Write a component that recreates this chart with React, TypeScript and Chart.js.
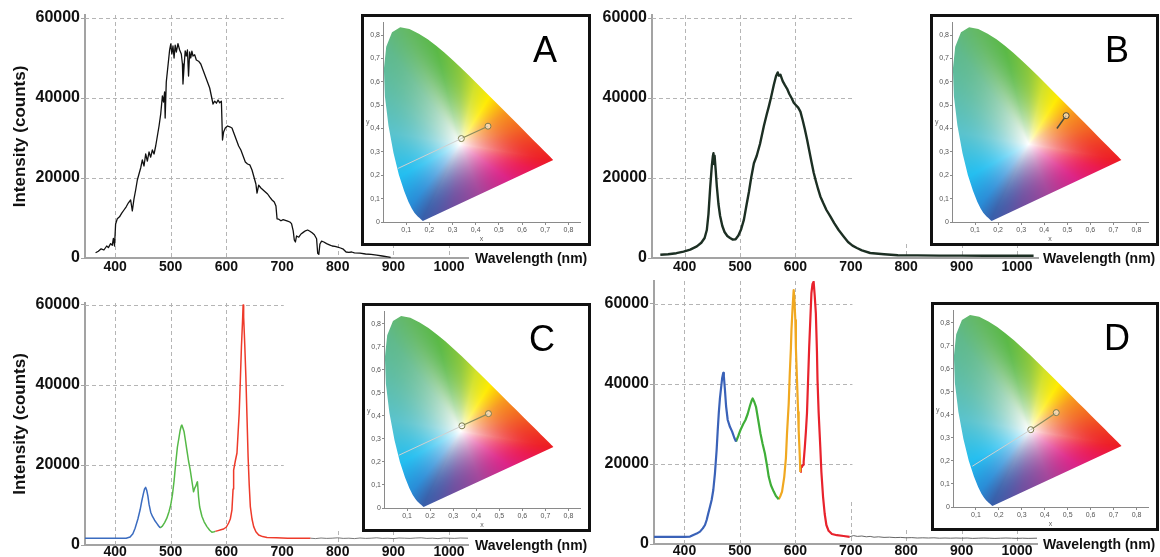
import React, { useEffect, useRef } from "react";
import { Chart, registerables } from "chart.js";
Chart.register(...registerables);

const FONT = "'Liberation Sans', Arial, Helvetica, sans-serif";

// ---------- axis ticks ----------
const WL_TICKS = [400, 500, 600, 700, 800, 900, 1000];
const COUNT_TICKS = [0, 20000, 40000, 60000];
const CIE_X_TICKS = [0.1, 0.2, 0.3, 0.4, 0.5, 0.6, 0.7, 0.8];
const CIE_Y_TICKS = [0, 0.1, 0.2, 0.3, 0.4, 0.5, 0.6, 0.7, 0.8];

// ---------- spectrum A (broad, noisy) ----------
const A_WL = [365,370,375,380,385,388,392,395,397,399,401,404,408,412,416,420,424,428,431,434,437,440,443,446,449,452,455,458,461,464,467,470,473,476,479,482,485,487,489,490,492,495,498,500,502,504,506,508,510,513,516,519,521,522,524,526,528,530,532,534,536,538,540,543,546,550,554,558,562,566,570,573,576,579,582,585,588,591,593,595,598,602,606,610,614,618,622,626,630,634,638,642,646,650,653,655,658,662,666,670,674,678,682,686,689,691,694,698,702,706,710,714,717,720,722,724,726,730,734,738,742,746,750,754,758,762,764,766,768,771,775,780,785,790,795,800,805,810,815,820,825,830,840,850,860,870,880,890,895];
const A_COUNTS = [1300,1700,2300,2000,3000,2600,3600,3200,4900,3000,8500,9800,10300,11200,12000,12800,13800,14500,11800,14800,17000,19500,21000,22500,24500,23000,26000,24200,26500,25200,27000,26000,28000,30500,33000,36000,40500,39000,41500,35000,44000,48000,52000,53500,51000,53000,50000,53200,51500,53600,52000,51000,48500,43500,48000,51800,50500,52000,45500,51500,50000,51700,50500,50800,49500,49200,48500,47000,45500,44000,42500,40500,38500,39200,38700,39500,38800,39200,29500,31500,32500,33000,32800,32500,31000,29500,28000,27000,25500,24000,23500,23300,22000,20000,18500,16200,18200,17500,17000,16500,16000,15200,14500,14000,13000,9800,9700,9300,9600,9400,9200,9000,8600,6800,4500,4000,5500,5200,6000,6400,6800,7000,6700,6300,5800,4800,1200,900,3500,4200,4000,3600,3300,3000,2900,2700,2500,2200,1500,1400,1500,1300,1200,1000,900,700,500,300,150];

// ---------- spectrum B (blue LED + phosphor) ----------
const B_WL = [356,370,385,398,410,422,430,436,440,443,446,449,451,452,453,454,456,458,461,464,468,472,477,482,487,492,497,502,507,512,516,520,525,530,536,543,548,552,556,561,565,568,570,573,577,581,585,589,593,597,601,605,609,613,617,621,625,629,633,637,641,645,650,656,663,670,678,687,695,703,711,720,735,760,785,820,860,900,940,980,1030];
const B_COUNTS = [800,950,1200,1600,2100,2900,3800,5000,7000,11000,17500,23000,25500,26200,23500,25600,22000,18000,13500,10500,8000,6500,5500,5000,4600,4700,5600,7200,9600,13500,16500,20000,23700,25500,28500,33000,35800,37900,40200,43300,45500,46400,45600,45800,44200,43200,42300,41000,40000,38800,38200,37600,36600,34500,32200,29600,26800,24000,21300,19200,17200,15400,13800,12000,10400,8700,7000,5400,4000,3100,2500,1900,1250,950,700,650,600,600,550,550,550];

// ---------- spectrum C (RGB, three bands) ----------
const C_BLUE_WL = [346,360,380,400,420,427,432,436,441,445,448,451,453,455,457,459,461,464,467,471,475,478,481];
const C_BLUE_COUNTS = [1700,1700,1700,1700,1700,2000,2800,4200,6500,8800,11000,12900,14000,14400,13600,12200,10200,8200,7200,6200,5400,4800,4300];
const C_GREEN_WL = [481,485,489,493,497,500,503,506,509,512,515,517,519,520,522,524,526,529,532,535,538,541,543,545,547,548,550,552,556,560,565,570,574,578,580];
const C_GREEN_COUNTS = [4300,4700,5600,6700,8400,10000,12500,16000,20500,24500,27000,28700,29800,30000,29200,28300,26500,23700,21000,18800,16000,13300,14200,14700,15600,15800,12000,9500,7200,5800,4600,3700,3200,3300,3400];
const C_RED_WL = [580,585,590,595,600,604,607,610,612,613,616,619,621,623,625,627,629,630,631,633,635,637,639,641,643,646,649,653,658,665,673,690,710,730,751];
const C_RED_COUNTS = [3400,3600,3800,4000,4500,5500,6500,8800,14000,18700,21000,23000,28000,33000,41000,49500,56000,60000,57000,50000,42000,32000,22000,15000,9600,6500,4600,3300,2500,2100,1900,1800,1700,1700,1700];
const C_TAIL_WL = [751,760,770,780,790,800,810,820,830,840,850,860,870,880,890,900,910,920,930,940,950,960,970,980,990,1000,1010,1020,1034];
const C_TAIL_COUNTS = [1700,1600,1750,1650,1700,1800,1650,1700,1600,1750,1650,1700,1800,1650,1700,1600,1750,1700,1650,1750,1800,1650,1700,1600,1750,1700,1650,1750,1700];

// ---------- spectrum D (four bands) ----------
const D_BLUE_WL = [345,360,380,400,410,416,422,428,433,437,440,443,446,449,452,455,458,460,462,464,466,468,470,471,473,475,478,482,486,490,493];
const D_BLUE_COUNTS = [1800,1800,1800,1800,1850,2250,2600,3100,3900,4750,6000,7700,9300,11000,13500,17700,23500,28500,33000,36500,39000,41500,42800,42000,38500,34500,31000,29300,28100,26500,25600];
const D_GREEN_WL = [493,497,501,506,510,514,518,521,523,526,529,533,537,541,545,549,552,556,561,565,570];
const D_GREEN_COUNTS = [25600,27000,28500,30000,31000,32500,34500,35800,36400,35500,34300,31000,27700,25000,22700,19500,16800,14700,13100,12000,11200];
const D_AMBER_WL = [570,573,576,580,583,585,588,590,592,593,595,597,598,600,601,603,605,606,608,609];
const D_AMBER_COUNTS = [11200,12000,13100,16800,21500,27700,35000,42700,49000,53500,59000,63500,62000,56000,49000,41000,33000,28500,22000,18000];
const D_RED_WL = [609,610,612,614,615,617,619,621,623,625,627,629,631,633,635,637,639,640,642,645,647,650,653,656,660,666,675,687,698];
const D_RED_COUNTS = [18000,19500,19300,19800,20600,24000,28000,32700,41000,49300,56000,62700,65000,65600,62000,57700,48000,41000,33000,24300,18000,11800,7500,4750,3300,2500,2200,2000,1800];
const D_TAIL_WL = [698,705,712,720,728,735,742,750,760,770,780,790,800,810,820,830,840,850,860,870,880,890,900,910,920,930,940,950,960,970,980,990,1000,1010,1020,1036];
const D_TAIL_COUNTS = [1800,2100,1900,2000,1800,1900,1700,1800,1650,1700,1600,1650,1550,1600,1500,1550,1500,1550,1450,1500,1450,1500,1450,1500,1400,1450,1500,1450,1400,1450,1500,1450,1400,1450,1400,1450];

// ---------- CIE 1931 spectral locus ----------
const LOCUS_X = [0.1741,0.1740,0.1738,0.1736,0.1733,0.1730,0.1726,0.1721,0.1714,0.1703,0.1689,0.1669,0.1644,0.1611,0.1566,0.1510,0.1440,0.1355,0.1241,0.1096,0.0913,0.0687,0.0454,0.0235,0.0082,0.0039,0.0139,0.0389,0.0743,0.1142,0.1547,0.1929,0.2296,0.2658,0.3016,0.3373,0.3731,0.4087,0.4441,0.4788,0.5125,0.5448,0.5752,0.6029,0.6270,0.6482,0.6658,0.6801,0.6915,0.7079,0.7190,0.7260,0.7300,0.7334,0.7347];
const LOCUS_Y = [0.0050,0.0050,0.0049,0.0049,0.0048,0.0048,0.0048,0.0048,0.0051,0.0058,0.0069,0.0086,0.0109,0.0138,0.0177,0.0227,0.0297,0.0399,0.0578,0.0868,0.1327,0.2007,0.2950,0.4127,0.5384,0.6548,0.7502,0.8120,0.8338,0.8262,0.8059,0.7816,0.7543,0.7243,0.6923,0.6589,0.6245,0.5896,0.5547,0.5202,0.4866,0.4544,0.4242,0.3965,0.3725,0.3514,0.3340,0.3197,0.3083,0.2920,0.2809,0.2740,0.2700,0.2666,0.2653];
const WHITE_X = 0.333;
const WHITE_Y = 0.333;

// chromaticity points shown in each inset
const A_CIE_X = [0.064, 0.338, 0.453];
const A_CIE_Y = [0.229, 0.357, 0.41];
const B_CIE_X = [0.455, 0.495];
const B_CIE_Y = [0.40, 0.455];
const C_CIE_X = [0.064, 0.338, 0.453];
const C_CIE_Y = [0.229, 0.357, 0.41];
const D_CIE_X = [0.084, 0.339, 0.45];
const D_CIE_Y = [0.177, 0.336, 0.41];

// hue colour stops around the white point (angle in degrees)
const HUE_STOPS = [
  [14, 242, 100, 35], [35, 247, 150, 30], [58, 255, 235, 0], [76, 210, 225, 40],
  [90, 140, 200, 60], [104, 90, 185, 70], [115, 100, 185, 100], [127, 95, 185, 140],
  [146, 95, 190, 170], [171, 90, 195, 205], [208, 35, 190, 240], [231, 40, 140, 215],
  [243, 55, 95, 170], [263, 110, 80, 160], [292, 165, 70, 155], [324, 220, 35, 135],
  [341, 235, 25, 80], [350, 237, 28, 36],
];

function hueAt(a: number) {
  const n = HUE_STOPS.length;
  const ext = HUE_STOPS.concat([[HUE_STOPS[0][0] + 360, HUE_STOPS[0][1], HUE_STOPS[0][2], HUE_STOPS[0][3]]]);
  let ang = a;
  if (ang < HUE_STOPS[0][0]) ang += 360;
  for (let i = 0; i < n; i++) {
    const s0 = ext[i], s1 = ext[i + 1];
    if (ang >= s0[0] && ang <= s1[0]) {
      const t = (ang - s0[0]) / (s1[0] - s0[0]);
      return [s0[1] + (s1[1] - s0[1]) * t, s0[2] + (s1[2] - s0[2]) * t, s0[3] + (s1[3] - s0[3]) * t];
    }
  }
  return [255, 255, 255];
}

let RADII: number[] | null = null;
function boundaryRadii() {
  if (RADII) return RADII;
  const n = LOCUS_X.length;
  const out: number[] = [];
  for (let b = 0; b < 720; b++) {
    const ang = (b / 2) * Math.PI / 180;
    const dx = Math.cos(ang), dy = Math.sin(ang);
    let best = Infinity;
    for (let i = 0; i < n; i++) {
      const x1 = LOCUS_X[i], y1 = LOCUS_Y[i];
      const x2 = LOCUS_X[(i + 1) % n], y2 = LOCUS_Y[(i + 1) % n];
      const ex = x2 - x1, ey = y2 - y1;
      const den = dx * ey - dy * ex;
      if (Math.abs(den) < 1e-12) continue;
      const wx = x1 - WHITE_X, wy = y1 - WHITE_Y;
      const s = (wx * ey - wy * ex) / den;
      const u = (wx * dy - wy * dx) / den;
      if (s > 0 && u >= -1e-9 && u <= 1 + 1e-9 && s < best) best = s;
    }
    out.push(best);
  }
  RADII = out;
  return out;
}

const cieFill = {
  id: "cieFill",
  beforeDatasetsDraw(chart: any) {
    const { ctx, scales } = chart;
    const xs = scales.x, ys = scales.y;
    const pts = LOCUS_X.map((lx, i) => [xs.getPixelForValue(lx), ys.getPixelForValue(LOCUS_Y[i])]);
    let minX = Infinity, minY = Infinity, maxX = -Infinity, maxY = -Infinity;
    pts.forEach(([px, py]) => {
      minX = Math.min(minX, px); maxX = Math.max(maxX, px);
      minY = Math.min(minY, py); maxY = Math.max(maxY, py);
    });
    minX = Math.floor(minX) - 1; minY = Math.floor(minY) - 1;
    maxX = Math.ceil(maxX) + 1; maxY = Math.ceil(maxY) + 1;
    const w = maxX - minX, h = maxY - minY;
    const off = document.createElement("canvas");
    off.width = w; off.height = h;
    const octx = off.getContext("2d")!;
    const img = octx.createImageData(w, h);
    const radii = boundaryRadii();
    for (let j = 0; j < h; j++) {
      const cy = ys.getValueForPixel(minY + j + 0.5);
      for (let i = 0; i < w; i++) {
        const cx = xs.getValueForPixel(minX + i + 0.5);
        const dx = cx - WHITE_X, dy = cy - WHITE_Y;
        const r = Math.hypot(dx, dy);
        let a = Math.atan2(dy, dx) * 180 / Math.PI;
        if (a < 0) a += 360;
        const R = radii[Math.min(719, Math.round(a * 2) % 720)];
        const t = Math.min(1, r / R);
        const f = 1 - Math.pow(1 - t, 2.0);
        const c = hueAt(a);
        const k = (j * w + i) * 4;
        img.data[k] = 255 * (1 - f) + c[0] * f;
        img.data[k + 1] = 255 * (1 - f) + c[1] * f;
        img.data[k + 2] = 255 * (1 - f) + c[2] * f;
        img.data[k + 3] = 255;
      }
    }
    octx.putImageData(img, 0, 0);
    ctx.save();
    ctx.beginPath();
    pts.forEach(([px, py], i) => (i ? ctx.lineTo(px, py) : ctx.moveTo(px, py)));
    ctx.closePath();
    ctx.clip();
    ctx.drawImage(off, minX, minY);
    ctx.restore();
  },
};

const dashGrid = {
  id: "dashGrid",
  beforeDatasetsDraw(chart: any, _args: any, opts: any) {
    const { ctx, chartArea: a, scales } = chart;
    const xs = scales.x, ys = scales.y;
    ctx.save();
    ctx.strokeStyle = "#b5b5b5";
    ctx.lineWidth = 1;
    ctx.setLineDash([4, 3]);
    (opts.hLines || []).forEach((v: number) => {
      const py = Math.round(ys.getPixelForValue(v)) + 0.5;
      ctx.beginPath();
      ctx.moveTo(a.left, py);
      ctx.lineTo(xs.getPixelForValue(opts.hEnd), py);
      ctx.stroke();
    });
    (opts.vFull || []).forEach((v: number) => {
      const px = Math.round(xs.getPixelForValue(v)) + 0.5;
      ctx.beginPath();
      ctx.moveTo(px, a.top);
      ctx.lineTo(px, a.bottom);
      ctx.stroke();
    });
    (opts.vShort || []).forEach((pair: number[]) => {
      const px = Math.round(xs.getPixelForValue(pair[0])) + 0.5;
      ctx.beginPath();
      ctx.moveTo(px, ys.getPixelForValue(pair[1]));
      ctx.lineTo(px, a.bottom);
      ctx.stroke();
    });
    ctx.restore();
  },
};

type Seg = { wl: number[]; val: number[]; color: string; width: number };

function Spectrum(p: any) {
  const ref = useRef<HTMLCanvasElement>(null);
  useEffect(() => {
    const { box, area } = p;
    const chart = new Chart(ref.current as HTMLCanvasElement, {
      type: "scatter",
      data: {
        datasets: p.segs.map((s: Seg) => ({
          data: s.wl.map((w, i) => ({ x: w, y: s.val[i] })),
          showLine: true,
          borderColor: s.color,
          borderWidth: s.width,
          pointRadius: 0,
          tension: 0,
          fill: false,
          borderJoinStyle: "round",
        })),
      },
      options: {
        animation: false,
        responsive: false,
        maintainAspectRatio: false,
        events: [],
        layout: { padding: { left: 0, top: area.top - box.top, right: box.left + box.w - area.right, bottom: 0 } },
        plugins: {
          legend: { display: false },
          tooltip: { enabled: false },
          dashGrid: { hLines: [20000, 40000, 60000], hEnd: 703, vFull: [400, 500, 600], vShort: p.vShort },
        } as any,
        scales: {
          x: {
            type: "linear",
            min: p.xMin,
            max: p.xMax,
            afterBuildTicks: (s: any) => { s.ticks = WL_TICKS.map((v) => ({ value: v })); },
            afterFit: (s: any) => { s.height = box.top + box.h - area.bottom; },
            grid: { display: false, drawTicks: false },
            border: { display: true, color: "#a3a3a3", width: 2 },
            ticks: { color: "#111", font: { family: FONT, size: 14, weight: "bold" }, padding: p.xPad, maxRotation: 0, autoSkip: false, callback: (v: any) => String(v) },
          },
          y: {
            type: "linear",
            min: 0,
            max: p.yMax,
            afterBuildTicks: (s: any) => { s.ticks = COUNT_TICKS.map((v) => ({ value: v })); },
            afterFit: (s: any) => { s.width = area.left - box.left; },
            grid: { display: true, drawOnChartArea: false, drawTicks: true, tickLength: 4, color: "#a3a3a3" },
            border: { display: true, color: "#a3a3a3", width: 2 },
            ticks: { color: "#111", font: { family: FONT, size: 16, weight: "bold" }, padding: 1, autoSkip: false, callback: (v: any) => String(v) },
            title: { display: !!p.yTitle, text: "Intensity (counts)", color: "#111", font: { family: FONT, size: 17, weight: "bold" }, padding: { top: 10, bottom: 0 } },
          },
        },
      } as any,
      plugins: [dashGrid],
    });
    return () => chart.destroy();
  }, []);
  const { box } = p;
  return (
    <canvas
      ref={ref}
      width={box.w}
      height={box.h}
      style={{ position: "absolute", left: box.left, top: box.top, width: box.w, height: box.h }}
    />
  );
}

const fmtComma = (v: number) => (v === 0 ? "0" : v.toFixed(1).replace(".", ","));

function Inset(p: any) {
  const ref = useRef<HTMLCanvasElement>(null);
  const { frame } = p;
  const iw = frame.w - 6, ih = frame.h - 6;
  useEffect(() => {
    const xs: number[] = p.cx, ys: number[] = p.cy;
    const datasets: any[] = [];
    if (xs.length === 3) {
      datasets.push({
        data: [{ x: xs[0], y: ys[0] }, { x: xs[1], y: ys[1] }],
        showLine: true, borderColor: "#d0d0d0", borderWidth: 1, pointRadius: 0,
      });
      datasets.push({
        data: [{ x: xs[1], y: ys[1] }, { x: xs[2], y: ys[2] }],
        showLine: true, borderColor: "#8a8a5c", borderWidth: 1.2,
        pointRadius: 3, pointBorderWidth: 1, pointBorderColor: "#7c7c4e", pointBackgroundColor: "rgba(255,255,255,0.55)",
      });
    } else {
      datasets.push({
        data: [{ x: xs[0], y: ys[0] }, { x: xs[1], y: ys[1] }],
        showLine: true, borderColor: "#4a4a3a", borderWidth: 1.5,
        pointRadius: [0, 3], pointBorderWidth: 1, pointBorderColor: "#4a4a3a", pointBackgroundColor: "rgba(255,255,255,0.55)",
      });
    }
    const smallFont = { family: FONT, size: 7 };
    const chart = new Chart(ref.current as HTMLCanvasElement, {
      type: "scatter",
      data: { datasets },
      options: {
        animation: false,
        responsive: false,
        maintainAspectRatio: false,
        events: [],
        layout: { padding: { left: 0, top: 5, right: 8, bottom: 0 } },
        plugins: { legend: { display: false }, tooltip: { enabled: false } },
        scales: {
          x: {
            type: "linear", min: 0, max: 0.85,
            afterBuildTicks: (s: any) => { s.ticks = CIE_X_TICKS.map((v) => ({ value: v })); },
            afterFit: (s: any) => { s.height = 21; },
            grid: { display: true, drawOnChartArea: false, drawTicks: true, tickLength: 3, color: "#8a8a8a" },
            border: { display: true, color: "#8a8a8a", width: 1 },
            ticks: { color: "#555", font: smallFont, padding: 1, maxRotation: 0, autoSkip: false, callback: (v: any) => fmtComma(v) },
            title: { display: true, text: "x", color: "#666", font: smallFont, padding: 0 },
          },
          y: {
            type: "linear", min: 0, max: 0.855,
            afterBuildTicks: (s: any) => { s.ticks = CIE_Y_TICKS.map((v) => ({ value: v })); },
            afterFit: (s: any) => { s.width = 19; },
            grid: { display: true, drawOnChartArea: false, drawTicks: true, tickLength: 2, color: "#8a8a8a" },
            border: { display: true, color: "#8a8a8a", width: 1 },
            ticks: { color: "#555", font: smallFont, padding: 1, autoSkip: false, callback: (v: any) => fmtComma(v) },
          },
        },
      } as any,
      plugins: [cieFill],
    });
    return () => chart.destroy();
  }, []);
  return (
    <div
      style={{
        position: "absolute", left: frame.left, top: frame.top, width: frame.w, height: frame.h,
        border: "3px solid #111", boxSizing: "border-box", background: "#fff", zIndex: 2,
      }}
    >
      <canvas ref={ref} width={iw} height={ih} style={{ position: "absolute", left: 0, top: 0, width: iw, height: ih }} />
      <div style={{ position: "absolute", left: 2, top: 101, font: `7px ${FONT}`, color: "#666", lineHeight: "8px" }}>y</div>
      <div
        style={{
          position: "absolute", left: p.letterX - 30, top: 15, width: 60, textAlign: "center",
          font: `36px ${FONT}`, lineHeight: "36px", color: "#000",
        }}
      >
        {p.letter}
      </div>
    </div>
  );
}

function Label(p: any) {
  return (
    <div
      style={{
        position: "absolute", left: p.left, top: p.top, font: `bold 14px ${FONT}`, lineHeight: "18px",
        color: "#111", whiteSpace: "nowrap", zIndex: 3,
      }}
    >
      Wavelength (nm)
    </div>
  );
}

const SHORT = [[800, 3500], [900, 3500], [1000, 3500]];

export default function App() {
  return (
    <div style={{ position: "fixed", left: 0, top: 0, width: 1160, height: 557, overflow: "hidden", background: "#fff" }}>
      <Spectrum
        box={{ left: 0, top: 0, w: 580, h: 290 }}
        area={{ left: 85, right: 468, top: 15, bottom: 258 }}
        xMin={346} xMax={1034} yMax={60750} yTitle xPad={1}
        vShort={SHORT}
        segs={[{ wl: A_WL, val: A_COUNTS, color: "#111", width: 1.3 }]}
      />
      <Spectrum
        box={{ left: 580, top: 0, w: 580, h: 290 }}
        area={{ left: 652, right: 1038, top: 15, bottom: 258 }}
        xMin={341} xMax={1038} yMax={60750} xPad={1}
        vShort={SHORT}
        segs={[{ wl: B_WL, val: B_COUNTS, color: "#1c2f23", width: 2.4 }]}
      />
      <Spectrum
        box={{ left: 0, top: 270, w: 580, h: 300 }}
        area={{ left: 85, right: 468, top: 303, bottom: 545 }}
        xMin={346} xMax={1034} yMax={60500} yTitle xPad={-1}
        vShort={SHORT}
        segs={[
          { wl: C_TAIL_WL, val: C_TAIL_COUNTS, color: "#555", width: 0.8 },
          { wl: C_BLUE_WL, val: C_BLUE_COUNTS, color: "#3b6cc0", width: 1.5 },
          { wl: C_GREEN_WL, val: C_GREEN_COUNTS, color: "#55b947", width: 1.5 },
          { wl: C_RED_WL, val: C_RED_COUNTS, color: "#ee3a2a", width: 1.5 },
        ]}
      />
      <Spectrum
        box={{ left: 580, top: 266, w: 580, h: 300 }}
        area={{ left: 654, right: 1037, top: 281, bottom: 544 }}
        xMin={345} xMax={1036} yMax={65750} xPad={-1}
        vShort={[[700, 10500]].concat(SHORT)}
        segs={[
          { wl: D_TAIL_WL, val: D_TAIL_COUNTS, color: "#555", width: 0.9 },
          { wl: D_BLUE_WL, val: D_BLUE_COUNTS, color: "#3a62b8", width: 2.2 },
          { wl: D_GREEN_WL, val: D_GREEN_COUNTS, color: "#3fae38", width: 2.2 },
          { wl: D_AMBER_WL, val: D_AMBER_COUNTS, color: "#f0a820", width: 2.2 },
          { wl: D_RED_WL, val: D_RED_COUNTS, color: "#e8222c", width: 2.2 },
        ]}
      />
      <Inset frame={{ left: 361, top: 14, w: 230, h: 232 }} letter="A" letterX={181} cx={A_CIE_X} cy={A_CIE_Y} />
      <Inset frame={{ left: 930, top: 14, w: 229, h: 232 }} letter="B" letterX={184} cx={B_CIE_X} cy={B_CIE_Y} />
      <Inset frame={{ left: 362, top: 303, w: 229, h: 229 }} letter="C" letterX={177} cx={C_CIE_X} cy={C_CIE_Y} />
      <Inset frame={{ left: 931, top: 302, w: 228, h: 229 }} letter="D" letterX={183} cx={D_CIE_X} cy={D_CIE_Y} />
      <Label left={475} top={249} />
      <Label left={1043} top={249} />
      <Label left={475} top={536} />
      <Label left={1043} top={535} />
    </div>
  );
}
